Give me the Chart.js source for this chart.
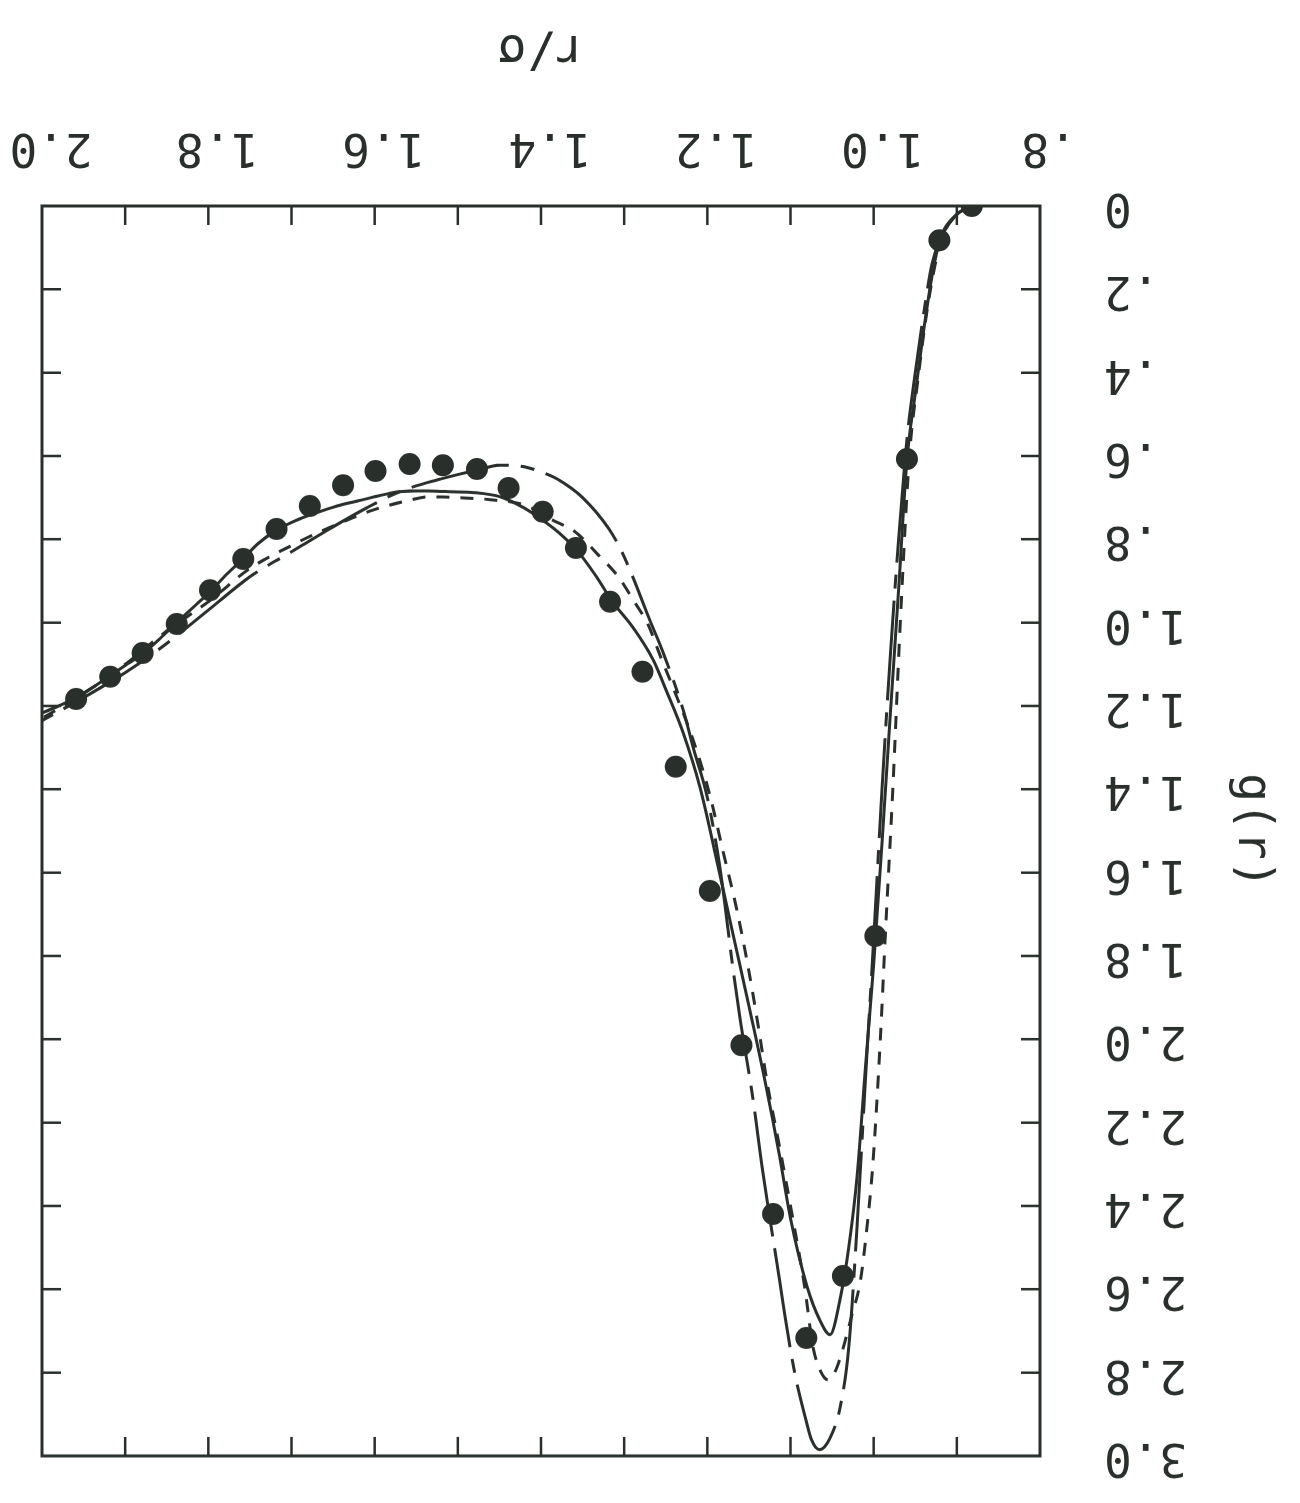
<!DOCTYPE html>
<html>
<head>
<meta charset="utf-8">
<title>g(r)</title>
<script src="https://cdn.jsdelivr.net/npm/chart.js@4.4.0/dist/chart.umd.min.js"></script>
<style>
  html, body { margin: 0; padding: 0; background: #fff; }
  /* the scanned figure is upside down, so the whole chart is turned 180deg */
  #wrap { width: 1300px; height: 1503px; transform: rotate(180deg); }
</style>
</head>
<body>
<div id="wrap"><canvas id="chartG" width="1300" height="1503"></canvas></div>
<script>
// simulation points (filled circles)
const rDots = [0.882, 0.921, 0.960, 0.998, 1.037, 1.081, 1.121, 1.159, 1.197, 1.238, 1.278, 1.317, 1.358, 1.398,
  1.439, 1.477, 1.518, 1.558, 1.599, 1.638, 1.678, 1.718, 1.758, 1.798, 1.838, 1.879, 1.918, 1.959];
const gDots = [0, 0.082, 0.607, 1.752, 2.568, 2.717, 2.419, 2.014, 1.644, 1.346, 1.118, 0.950, 0.821, 0.734,
  0.677, 0.631, 0.622, 0.619, 0.636, 0.670, 0.720, 0.775, 0.847, 0.922, 1.003, 1.073, 1.130, 1.183];

// solid curve
const rSolid = [0.88, 0.90, 0.92, 0.93, 0.94, 0.95, 0.96, 0.97, 0.98, 0.99, 1.00, 1.01, 1.02, 1.03, 1.04, 1.0525,
  1.065, 1.08, 1.10, 1.113, 1.131, 1.15, 1.17, 1.188, 1.209, 1.229, 1.25, 1.265, 1.29, 1.313, 1.335, 1.357, 1.378,
  1.398, 1.42, 1.449, 1.48, 1.511, 1.54, 1.571, 1.60, 1.616, 1.645, 1.671, 1.695, 1.718, 1.74, 1.76, 1.78, 1.798,
  1.818, 1.838, 1.858, 1.878, 1.90, 1.92, 1.94, 1.959, 1.98, 2.00];
const gSolid = [0, 0.02, 0.08, 0.17, 0.30, 0.45, 0.61, 0.92, 1.22, 1.53, 1.82, 2.07, 2.33, 2.50, 2.62, 2.709,
  2.673, 2.594, 2.43, 2.282, 2.097, 1.92, 1.74, 1.577, 1.394, 1.265, 1.16, 1.09, 1.01, 0.953, 0.885, 0.826, 0.785,
  0.754, 0.725, 0.698, 0.688, 0.686, 0.684, 0.686, 0.698, 0.706, 0.72, 0.737, 0.755, 0.778, 0.81, 0.85, 0.888, 0.926,
  0.963, 1.00, 1.038, 1.073, 1.103, 1.13, 1.157, 1.18, 1.20, 1.217];

// long dash - short dash curve
const rLong = [0.88, 0.90, 0.92, 0.93, 0.94, 0.95, 0.96, 0.97, 0.98, 0.99, 1.00, 1.01, 1.02, 1.03, 1.04, 1.0525,
  1.065, 1.075, 1.08, 1.095, 1.107, 1.113, 1.134, 1.145, 1.161, 1.169, 1.185, 1.20, 1.217, 1.229, 1.253, 1.27, 1.293,
  1.305, 1.319, 1.35, 1.38, 1.40, 1.42, 1.45, 1.477, 1.52, 1.57, 1.61, 1.65, 1.70, 1.75, 1.80, 1.85, 1.90, 1.95, 2.00];
const gLong = [0, 0.02, 0.08, 0.14, 0.26, 0.40, 0.56, 0.80, 1.08, 1.40, 1.76, 2.10, 2.45, 2.74, 2.88, 2.957,
  2.985, 2.96, 2.925, 2.80, 2.66, 2.58, 2.309, 2.145, 1.946, 1.833, 1.586, 1.42, 1.30, 1.21, 1.073, 0.99, 0.874,
  0.821, 0.773, 0.70, 0.656, 0.638, 0.626, 0.622, 0.634, 0.655, 0.686, 0.725, 0.77, 0.83, 0.89, 0.97, 1.05, 1.12, 1.18, 1.235];

// short dash curve
const rShort = [0.88, 0.90, 0.92, 0.935, 0.947, 0.957, 0.968, 0.977, 0.986, 0.992, 1.001, 1.008, 1.016, 1.026,
  1.038, 1.047, 1.055, 1.063, 1.073, 1.083, 1.10, 1.113, 1.128, 1.139, 1.151, 1.165, 1.181, 1.197, 1.217, 1.241,
  1.257, 1.271, 1.289, 1.307, 1.331, 1.359, 1.386, 1.419, 1.455, 1.50, 1.533, 1.566, 1.602, 1.633, 1.666, 1.70,
  1.75, 1.80, 1.85, 1.90, 1.95, 2.00];
const gShort = [0, 0.02, 0.09, 0.24, 0.42, 0.60, 1.00, 1.40, 1.75, 2.00, 2.30, 2.45, 2.58, 2.66,
  2.75, 2.80, 2.817, 2.80, 2.738, 2.594, 2.40, 2.26, 2.105, 1.966, 1.826, 1.685, 1.55, 1.414, 1.282, 1.157,
  1.078, 1.006, 0.946, 0.890, 0.838, 0.782, 0.754, 0.718, 0.706, 0.700, 0.698, 0.710, 0.730, 0.754, 0.782, 0.815,
  0.87, 0.95, 1.02, 1.10, 1.17, 1.23];

const xTitle = 'r/σ';
const yTitle = 'g(r)';

const ink = '#29302b';
const tickFont = { family: 'DejaVu Sans Mono', size: 46 };
const tickLen = 19;

function pairs(xs, ys) {
  return xs.map((x, i) => ({ x: x, y: ys[i] }));
}

// labels like the original: ".8", "1.0", "0", ".2"
function fmt(v) {
  if (Math.abs(v) < 1e-9) return '0';
  const s = v.toFixed(1);
  return v < 1 ? s.slice(1) : s;
}

// keep the plot box where the layout padding puts it
function noOverhang(s) {
  s.paddingTop = 0;
  s.paddingBottom = 0;
  s.paddingLeft = 0;
  s.paddingRight = 0;
}

// box round the plot with inward ticks on all four sides
const frameTicks = {
  id: 'frameTicks',
  afterDatasetsDraw(chart) {
    const ctx = chart.ctx;
    const a = chart.chartArea;
    const xs = chart.scales.x;
    const ys = chart.scales.y;
    ctx.save();
    ctx.strokeStyle = ink;
    ctx.lineWidth = 2.5;
    ctx.beginPath();
    xs.ticks.forEach((t) => {
      if (t.value <= xs.min + 1e-6 || t.value >= xs.max - 1e-6) return;
      const px = xs.getPixelForValue(t.value);
      ctx.moveTo(px, a.bottom);
      ctx.lineTo(px, a.bottom - tickLen);
      ctx.moveTo(px, a.top);
      ctx.lineTo(px, a.top + tickLen);
    });
    ys.ticks.forEach((t) => {
      if (t.value <= ys.min + 1e-6 || t.value >= ys.max - 1e-6) return;
      const py = ys.getPixelForValue(t.value);
      ctx.moveTo(a.left, py);
      ctx.lineTo(a.left + tickLen, py);
      ctx.moveTo(a.right, py);
      ctx.lineTo(a.right - tickLen, py);
    });
    ctx.stroke();
    ctx.lineWidth = 3;
    ctx.strokeRect(a.left, a.top, a.right - a.left, a.bottom - a.top);
    ctx.restore();
  },
};

const curve = {
  showLine: true,
  pointRadius: 0,
  borderColor: ink,
  borderWidth: 3,
  cubicInterpolationMode: 'monotone',
  fill: false,
};

const ctx = document.getElementById('chartG').getContext('2d');
const chartG = new Chart(ctx, {
  type: 'scatter',
  data: {
    datasets: [
      {
        label: 'MD',
        data: pairs(rDots, gDots),
        pointRadius: 11,
        pointBackgroundColor: ink,
        pointBorderWidth: 0,
        showLine: false,
      },
      Object.assign({ label: 'solid', data: pairs(rSolid, gSolid) }, curve),
      Object.assign({ label: 'long dash', data: pairs(rLong, gLong), borderDash: [100, 12, 14, 12] }, curve),
      Object.assign({ label: 'short dash', data: pairs(rShort, gShort), borderDash: [13, 11] }, curve),
    ],
  },
  options: {
    responsive: false,
    animation: false,
    layout: { padding: { left: 20, right: 42, top: 47, bottom: 20 } },
    plugins: {
      legend: { display: false },
      tooltip: { enabled: false },
    },
    scales: {
      x: {
        type: 'linear',
        min: 0.8,
        max: 2.0,
        grid: { display: false, drawTicks: false },
        border: { display: false },
        ticks: {
          stepSize: 0.1,
          autoSkip: false,
          maxRotation: 0,
          padding: 32,
          labelOffset: -9,
          color: ink,
          font: tickFont,
          callback: (v) => (Math.round(v * 10) % 2 === 0 ? fmt(v) : ''),
        },
        title: { display: true, text: xTitle, color: ink, font: { family: 'DejaVu Sans Mono', size: 48 }, padding: 0 },
        afterFit: (s) => { s.height = 186; noOverhang(s); },
      },
      y: {
        min: 0,
        max: 3.0,
        grid: { display: false, drawTicks: false },
        border: { display: false },
        ticks: {
          stepSize: 0.2,
          padding: 64,
          color: ink,
          font: tickFont,
          callback: (v) => fmt(v),
        },
        title: { display: true, text: yTitle, color: ink, font: { family: 'DejaVu Sans Mono', size: 48 }, padding: 0 },
        afterFit: (s) => { s.width = 240; noOverhang(s); },
      },
    },
  },
  plugins: [frameTicks],
});
</script>
</body>
</html>
